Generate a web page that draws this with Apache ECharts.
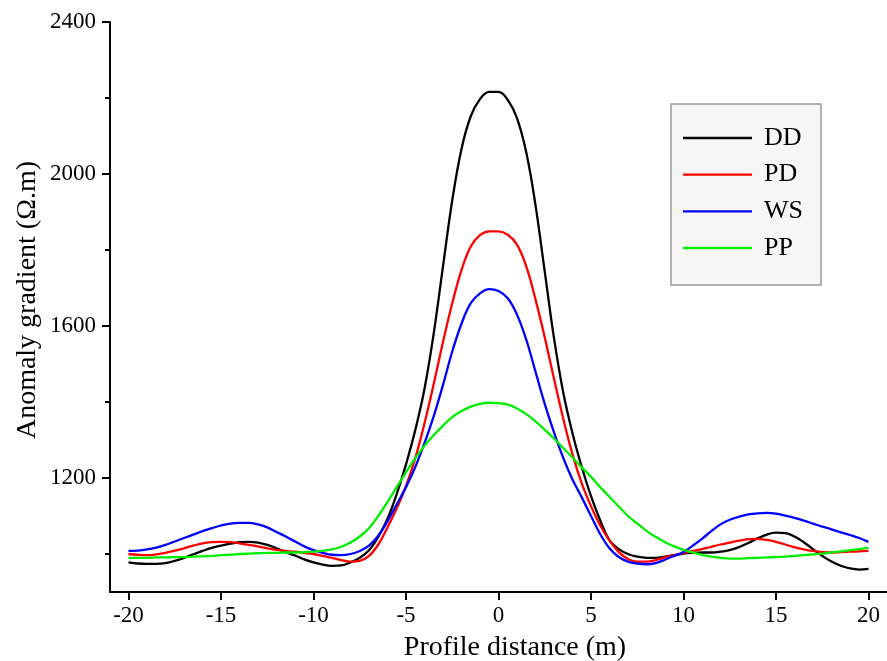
<!DOCTYPE html>
<html>
<head>
<meta charset="utf-8">
<script src="https://cdn.jsdelivr.net/npm/echarts@6/dist/echarts.min.js"></script>
<style>
html,body{margin:0;padding:0;background:#fff;}
#chart{width:887px;height:661px;}
</style>
</head>
<body>
<div id="chart"></div>
<script>
var xs = [-20,-19.5,-19,-18.5,-18,-17.5,-17,-16.5,-16,-15.5,-15,-14.5,-14,-13.5,-13,-12.5,-12,-11.5,-11,-10.5,
  -10,-9.5,-9,-8.5,-8,-7.5,-7,-6.5,-6,-5.5,-5,-4.5,-4,-3.5,-3,-2.5,-2,-1.5,-1,-0.5,
  0,0.5,1,1.5,2,2.5,3,3.5,4,4.5,5,5.5,6,6.5,7,7.5,8,8.5,9,9.5,
  10,10.5,11,11.5,12,12.5,13,13.5,14,14.5,15,15.5,16,16.5,17,17.5,18,18.5,19,19.5,20];
var dd = [978,975,974,974,976,982,990,999,1008,1016,1022,1027,1031,1032,1030,1024,1015,1005,996,986,
  978,972,969,970,978,990,1010,1045,1093,1158,1236,1326,1435,1581,1757,1931,2066,2152,2197,2216,
  2216,2195,2147,2057,1918,1743,1568,1425,1318,1229,1152,1088,1036,1013,1000,993,990,990,993,997,
  1001,1003,1004,1004,1006,1010,1018,1029,1041,1051,1056,1055,1046,1031,1013,995,980,969,962,959,961];
var pd = [1000,998,997,999,1003,1009,1015,1022,1028,1031,1032,1031,1028,1024,1020,1015,1011,1008,1006,1003,
  1000,995,990,984,980,982,995,1025,1070,1120,1179,1252,1344,1448,1558,1660,1747,1809,1839,1849,
  1849,1840,1814,1757,1670,1570,1461,1356,1262,1186,1126,1075,1035,1005,987,980,980,984,991,997,
  1003,1008,1013,1019,1025,1030,1035,1039,1040,1037,1032,1025,1018,1012,1008,1005,1004,1005,1006,1007,1008];
var ws = [1008,1009,1012,1017,1024,1033,1042,1051,1060,1068,1075,1080,1082,1082,1078,1070,1058,1046,1033,1020,
  1010,1003,998,997,1000,1008,1022,1048,1086,1131,1176,1229,1292,1363,1445,1533,1606,1660,1686,1697,
  1692,1673,1630,1564,1480,1395,1320,1253,1196,1149,1100,1052,1015,992,980,975,973,976,985,995,
  1005,1022,1040,1060,1078,1090,1098,1104,1107,1108,1106,1101,1095,1088,1080,1072,1065,1057,1050,1042,1032];
var pp = [990,990,990,991,991,992,992,993,994,995,997,998,1000,1001,1002,1003,1003,1004,1004,1005,
  1006,1008,1012,1019,1030,1046,1068,1100,1137,1176,1215,1252,1285,1313,1338,1360,1376,1388,1395,1398,
  1397,1393,1383,1368,1349,1327,1304,1279,1254,1228,1203,1176,1150,1125,1100,1080,1061,1045,1031,1020,
  1011,1004,998,993,990,988,988,989,990,991,992,993,995,997,999,1001,1004,1007,1010,1013,1016];
var seriesNames = ['DD','PD','WS','PP'];
var seriesColors = ['#000000','#ff0000','#0000ff','#00ee00'];
var xTicks = [-20,-15,-10,-5,0,5,10,15,20];
var yMajor = [1200,1600,2000,2400];
var yMinor = [1000,1400,1800,2200];
var xTitle = 'Profile distance (m)';
var yTitle = 'Anomaly gradient (Ω.m)';

var FONT = 'Liberation Serif';
var chart = echarts.init(document.getElementById('chart'));
function pairs(arr){ return xs.map(function(x,i){ return [x, arr[i]]; }); }
var allData = [dd,pd,ws,pp];
var series = seriesNames.map(function(n,i){
  return {
    name:n, type:'line', data:pairs(allData[i]), symbol:'none', showSymbol:false,
    smooth:0.4, color:seriesColors[i], lineStyle:{width:2.3, color:seriesColors[i]}, z:2
  };
});
var option = {
  animation:false,
  backgroundColor:'#fff',
  grid:{left:110, top:22, width:779.6, height:570},
  xAxis:{
    type:'value', min:-21, max:21,
    axisLine:{onZero:false, lineStyle:{color:'#000', width:2}},
    axisTick:{customValues:xTicks, length:8, lineStyle:{color:'#000', width:2}},
    axisLabel:{customValues:xTicks, fontSize:23, fontFamily:FONT, color:'#000', margin:12,
      formatter:function(v){ return String(v); }},
    splitLine:{show:false}
  },
  yAxis:[{
    type:'value', min:900, max:2400, position:'left',
    axisLine:{show:true, onZero:false, lineStyle:{color:'#000', width:2}},
    axisTick:{show:true, customValues:yMajor, length:8, lineStyle:{color:'#000', width:2}},
    axisLabel:{customValues:yMajor, fontSize:23, fontFamily:FONT, color:'#000', margin:14,
      formatter:function(v){ return String(v); }},
    splitLine:{show:false}
  },{
    type:'value', min:900, max:2400, position:'left',
    axisLine:{show:false, onZero:false},
    axisTick:{show:true, customValues:yMinor, length:5, lineStyle:{color:'#000', width:2}},
    axisLabel:{show:false},
    splitLine:{show:false}
  }],
  legend:{
    data:seriesNames, orient:'vertical', left:671, top:104,
    padding:[21,18,24,12], itemWidth:69, itemHeight:2.4, itemGap:10.67, icon:'rect',
    backgroundColor:'#f6f6f6', borderColor:'#9a9a9a', borderWidth:1.5,
    textStyle:{fontSize:26, fontFamily:FONT, color:'#000', lineHeight:26, padding:[0,0,0,7]}
  },
  graphic:[
    {type:'text', x:515, y:648, style:{text:xTitle, font:'28px "Liberation Serif"', fill:'#000', textAlign:'center', textVerticalAlign:'middle'}},
    {type:'text', rotation:Math.PI/2, x:28, y:300, style:{text:yTitle, font:'28px "Liberation Serif"', fill:'#000', textAlign:'center', textVerticalAlign:'middle'}}
  ],
  series:series
};
chart.setOption(option);
</script>
</body>
</html>
